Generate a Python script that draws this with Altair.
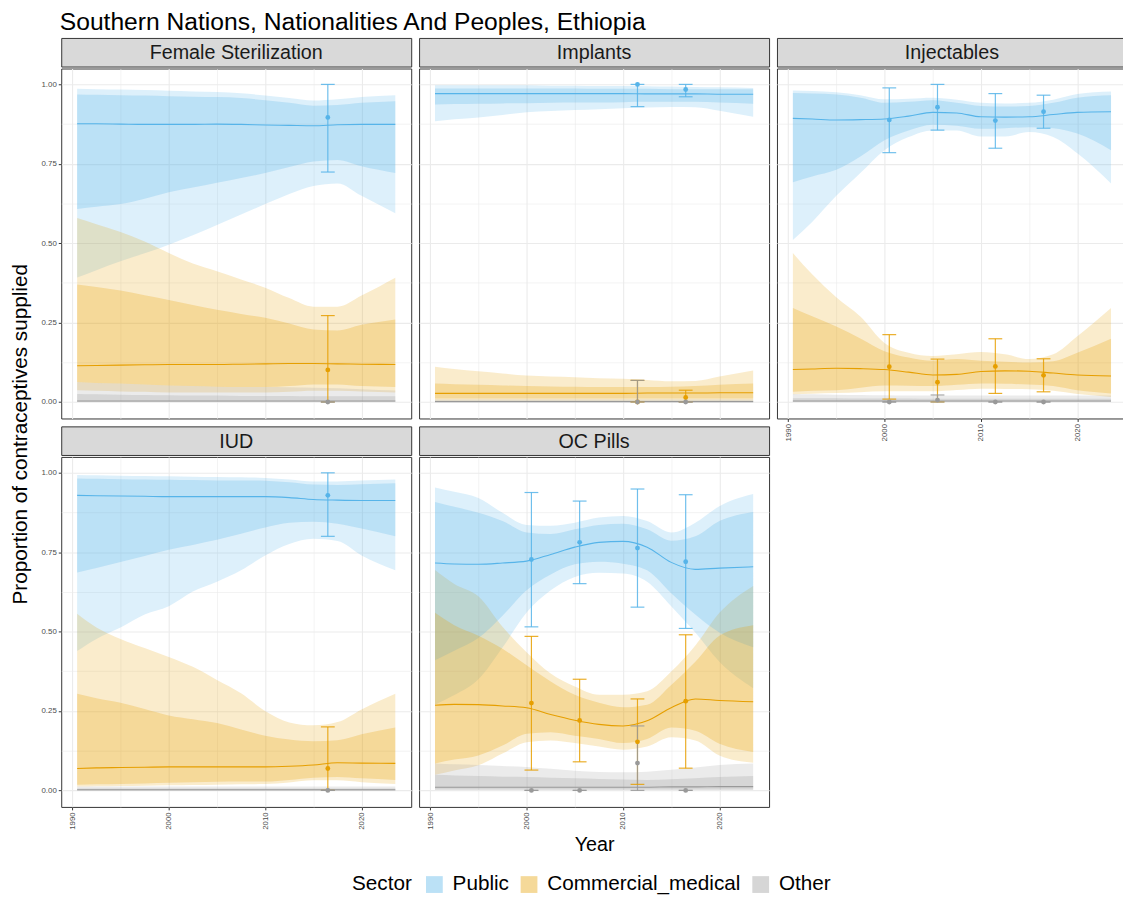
import altair as alt
import pandas as pd

FONT = "Liberation Sans"
TITLE = "Southern Nations, Nationalities And Peoples, Ethiopia"
Y_TITLE = "Proportion of contraceptives supplied"
X_TITLE = "Year"
METHODS = ["Female Sterilization", "Implants", "Injectables", "IUD", "OC Pills"]
SECTORS = ["Public", "Commercial_medical", "Other"]
COLORS = ["#56B4E9", "#E69F00", "#999999"]

YEARS = [1990.5, 1992.5, 1995, 1997.5, 2000, 2002.5, 2005, 2007.5, 2010, 2012.5, 2015, 2017.5, 2020, 2023.5]

# ---------------- Female Sterilization ----------------
FS_PUB_MED  = [0.876, 0.876, 0.875, 0.874, 0.874, 0.874, 0.875, 0.874, 0.872, 0.871, 0.870, 0.873, 0.874, 0.874]
FS_PUB_LO80 = [0.608, 0.615, 0.623, 0.640, 0.660, 0.675, 0.690, 0.705, 0.721, 0.740, 0.757, 0.762, 0.742, 0.721]
FS_PUB_HI80 = [0.968, 0.967, 0.966, 0.965, 0.963, 0.961, 0.960, 0.957, 0.950, 0.942, 0.933, 0.935, 0.942, 0.947]
FS_PUB_LO95 = [0.392, 0.415, 0.443, 0.468, 0.495, 0.525, 0.557, 0.590, 0.623, 0.655, 0.680, 0.688, 0.649, 0.594]
FS_PUB_HI95 = [0.986, 0.985, 0.984, 0.982, 0.980, 0.978, 0.976, 0.972, 0.965, 0.957, 0.949, 0.953, 0.960, 0.966]

FS_COM_MED  = [0.114, 0.115, 0.116, 0.117, 0.118, 0.118, 0.118, 0.119, 0.120, 0.121, 0.121, 0.120, 0.119, 0.118]
FS_COM_LO80 = [0.063, 0.060, 0.058, 0.055, 0.052, 0.050, 0.048, 0.047, 0.047, 0.050, 0.055, 0.055, 0.050, 0.047]
FS_COM_HI80 = [0.370, 0.362, 0.351, 0.336, 0.321, 0.305, 0.290, 0.277, 0.265, 0.247, 0.228, 0.225, 0.243, 0.260]
FS_COM_LO95 = [0.037, 0.035, 0.033, 0.032, 0.030, 0.030, 0.030, 0.030, 0.030, 0.032, 0.035, 0.035, 0.033, 0.030]
FS_COM_HI95 = [0.579, 0.560, 0.535, 0.505, 0.469, 0.436, 0.412, 0.386, 0.360, 0.327, 0.300, 0.300, 0.335, 0.391]

FS_OTH_MED  = [0.003, 0.003, 0.003, 0.003, 0.003, 0.003, 0.003, 0.003, 0.003, 0.003, 0.003, 0.003, 0.003, 0.003]
FS_OTH_LO80 = [0.001, 0.001, 0.001, 0.001, 0.001, 0.001, 0.001, 0.001, 0.001, 0.001, 0.001, 0.001, 0.001, 0.001]
FS_OTH_HI80 = [0.025, 0.024, 0.023, 0.022, 0.021, 0.020, 0.020, 0.019, 0.019, 0.019, 0.018, 0.018, 0.018, 0.018]
FS_OTH_LO95 = [0.000, 0.000, 0.000, 0.000, 0.000, 0.000, 0.000, 0.000, 0.000, 0.000, 0.000, 0.000, 0.000, 0.000]
FS_OTH_HI95 = [0.063, 0.060, 0.058, 0.055, 0.052, 0.050, 0.048, 0.047, 0.047, 0.046, 0.045, 0.043, 0.040, 0.036]

# ---------------- Implants ----------------
IMP_PUB_MED  = [0.971, 0.971, 0.971, 0.971, 0.971, 0.971, 0.971, 0.971, 0.971, 0.970, 0.970, 0.970, 0.969, 0.969]
IMP_PUB_LO80 = [0.937, 0.938, 0.939, 0.940, 0.941, 0.942, 0.943, 0.943, 0.944, 0.945, 0.945, 0.945, 0.943, 0.939]
IMP_PUB_HI80 = [0.987, 0.987, 0.987, 0.987, 0.987, 0.987, 0.987, 0.986, 0.986, 0.986, 0.985, 0.985, 0.985, 0.985]
IMP_PUB_LO95 = [0.884, 0.890, 0.896, 0.904, 0.912, 0.916, 0.919, 0.922, 0.925, 0.927, 0.929, 0.928, 0.917, 0.898]
IMP_PUB_HI95 = [0.997, 0.997, 0.997, 0.997, 0.997, 0.996, 0.996, 0.995, 0.995, 0.994, 0.993, 0.992, 0.991, 0.989]

IMP_COM_MED  = [0.027, 0.027, 0.027, 0.027, 0.027, 0.027, 0.027, 0.027, 0.027, 0.028, 0.028, 0.028, 0.029, 0.029]
IMP_COM_LO80 = [0.011, 0.011, 0.011, 0.011, 0.011, 0.011, 0.011, 0.011, 0.011, 0.011, 0.011, 0.011, 0.011, 0.011]
IMP_COM_HI80 = [0.058, 0.056, 0.054, 0.052, 0.050, 0.049, 0.048, 0.047, 0.047, 0.047, 0.048, 0.050, 0.054, 0.058]
IMP_COM_LO95 = [0.004, 0.004, 0.004, 0.004, 0.004, 0.004, 0.004, 0.004, 0.004, 0.004, 0.004, 0.004, 0.004, 0.004]
IMP_COM_HI95 = [0.111, 0.104, 0.097, 0.090, 0.083, 0.080, 0.078, 0.075, 0.073, 0.069, 0.065, 0.066, 0.080, 0.099]

IMP_OTH_MED  = [0.001, 0.001, 0.001, 0.001, 0.001, 0.001, 0.001, 0.001, 0.001, 0.001, 0.001, 0.001, 0.001, 0.001]
IMP_OTH_LO80 = [0.000, 0.000, 0.000, 0.000, 0.000, 0.000, 0.000, 0.000, 0.000, 0.000, 0.000, 0.000, 0.000, 0.000]
IMP_OTH_HI80 = [0.004, 0.004, 0.004, 0.004, 0.004, 0.004, 0.004, 0.004, 0.004, 0.004, 0.004, 0.004, 0.004, 0.004]
IMP_OTH_LO95 = [0.000, 0.000, 0.000, 0.000, 0.000, 0.000, 0.000, 0.000, 0.000, 0.000, 0.000, 0.000, 0.000, 0.000]
IMP_OTH_HI95 = [0.008, 0.008, 0.008, 0.008, 0.008, 0.008, 0.008, 0.008, 0.008, 0.008, 0.008, 0.008, 0.008, 0.008]

# ---------------- Injectables ----------------
INJ_PUB_MED  = [0.893, 0.891, 0.888, 0.889, 0.891, 0.900, 0.912, 0.910, 0.898, 0.897, 0.898, 0.905, 0.912, 0.914]
INJ_PUB_LO80 = [0.692, 0.710, 0.731, 0.773, 0.824, 0.855, 0.873, 0.870, 0.860, 0.862, 0.865, 0.862, 0.845, 0.793]
INJ_PUB_HI80 = [0.973, 0.971, 0.968, 0.958, 0.942, 0.945, 0.950, 0.942, 0.932, 0.930, 0.932, 0.942, 0.958, 0.966]
INJ_PUB_LO95 = [0.510, 0.567, 0.649, 0.721, 0.793, 0.834, 0.855, 0.855, 0.836, 0.836, 0.850, 0.834, 0.783, 0.688]
INJ_PUB_HI95 = [0.981, 0.979, 0.975, 0.966, 0.953, 0.955, 0.958, 0.952, 0.942, 0.940, 0.942, 0.952, 0.970, 0.978]

INJ_COM_MED  = [0.102, 0.104, 0.106, 0.105, 0.102, 0.094, 0.085, 0.087, 0.096, 0.098, 0.097, 0.091, 0.085, 0.082]
INJ_COM_LO80 = [0.032, 0.035, 0.037, 0.045, 0.052, 0.051, 0.050, 0.054, 0.058, 0.057, 0.055, 0.050, 0.037, 0.027]
INJ_COM_HI80 = [0.296, 0.270, 0.238, 0.200, 0.160, 0.140, 0.130, 0.135, 0.130, 0.127, 0.124, 0.128, 0.155, 0.199]
INJ_COM_LO95 = [0.024, 0.026, 0.028, 0.031, 0.034, 0.034, 0.034, 0.038, 0.042, 0.041, 0.040, 0.035, 0.025, 0.016]
INJ_COM_HI95 = [0.469, 0.402, 0.330, 0.269, 0.186, 0.155, 0.145, 0.150, 0.157, 0.150, 0.135, 0.150, 0.207, 0.296]

INJ_OTH_MED  = [0.003, 0.003, 0.003, 0.003, 0.003, 0.003, 0.003, 0.003, 0.003, 0.003, 0.003, 0.003, 0.003, 0.003]
INJ_OTH_LO80 = [0.001, 0.001, 0.001, 0.001, 0.001, 0.001, 0.001, 0.001, 0.001, 0.001, 0.001, 0.001, 0.001, 0.001]
INJ_OTH_HI80 = [0.012, 0.012, 0.012, 0.011, 0.011, 0.011, 0.010, 0.010, 0.010, 0.010, 0.010, 0.010, 0.010, 0.010]
INJ_OTH_LO95 = [0.000, 0.000, 0.000, 0.000, 0.000, 0.000, 0.000, 0.000, 0.000, 0.000, 0.000, 0.000, 0.000, 0.000]
INJ_OTH_HI95 = [0.025, 0.024, 0.023, 0.022, 0.021, 0.020, 0.020, 0.020, 0.020, 0.020, 0.020, 0.020, 0.020, 0.020]

# ---------------- IUD ----------------
IUD_PUB_MED  = [0.929, 0.928, 0.927, 0.926, 0.925, 0.925, 0.925, 0.925, 0.925, 0.922, 0.916, 0.914, 0.913, 0.913]
IUD_PUB_LO80 = [0.686, 0.700, 0.719, 0.738, 0.758, 0.773, 0.789, 0.808, 0.828, 0.843, 0.846, 0.840, 0.825, 0.800]
IUD_PUB_HI80 = [0.982, 0.981, 0.980, 0.979, 0.978, 0.977, 0.976, 0.976, 0.975, 0.970, 0.963, 0.962, 0.964, 0.967]
IUD_PUB_LO95 = [0.439, 0.477, 0.513, 0.554, 0.580, 0.626, 0.657, 0.693, 0.740, 0.776, 0.792, 0.785, 0.740, 0.693]
IUD_PUB_HI95 = [0.993, 0.992, 0.991, 0.990, 0.989, 0.988, 0.987, 0.986, 0.984, 0.979, 0.973, 0.973, 0.976, 0.979]

IUD_COM_MED  = [0.069, 0.071, 0.072, 0.073, 0.074, 0.074, 0.074, 0.074, 0.074, 0.076, 0.080, 0.087, 0.086, 0.085]
IUD_COM_LO80 = [0.018, 0.019, 0.020, 0.022, 0.024, 0.026, 0.027, 0.028, 0.028, 0.033, 0.040, 0.042, 0.038, 0.033]
IUD_COM_HI80 = [0.304, 0.290, 0.276, 0.256, 0.236, 0.224, 0.212, 0.192, 0.172, 0.160, 0.155, 0.158, 0.177, 0.198]
IUD_COM_LO95 = [0.012, 0.013, 0.014, 0.015, 0.016, 0.017, 0.018, 0.019, 0.020, 0.025, 0.032, 0.032, 0.026, 0.020]
IUD_COM_HI95 = [0.556, 0.513, 0.477, 0.448, 0.420, 0.389, 0.348, 0.306, 0.250, 0.214, 0.205, 0.215, 0.255, 0.304]

IUD_OTH_MED  = [0.002, 0.002, 0.002, 0.002, 0.002, 0.002, 0.002, 0.002, 0.002, 0.002, 0.002, 0.002, 0.002, 0.002]
IUD_OTH_LO80 = [0.000, 0.000, 0.000, 0.000, 0.000, 0.000, 0.000, 0.000, 0.000, 0.000, 0.000, 0.000, 0.000, 0.000]
IUD_OTH_HI80 = [0.006, 0.006, 0.006, 0.006, 0.006, 0.006, 0.006, 0.006, 0.006, 0.006, 0.006, 0.006, 0.006, 0.006]
IUD_OTH_LO95 = [0.000, 0.000, 0.000, 0.000, 0.000, 0.000, 0.000, 0.000, 0.000, 0.000, 0.000, 0.000, 0.000, 0.000]
IUD_OTH_HI95 = [0.012, 0.012, 0.012, 0.012, 0.012, 0.012, 0.012, 0.012, 0.012, 0.012, 0.012, 0.012, 0.012, 0.012]

# ---------------- OC Pills ----------------
OC_PUB_MED  = [0.716, 0.713, 0.712, 0.716, 0.722, 0.743, 0.766, 0.781, 0.784, 0.766, 0.718, 0.696, 0.700, 0.704]
OC_PUB_LO80 = [0.410, 0.440, 0.480, 0.550, 0.630, 0.680, 0.712, 0.720, 0.714, 0.693, 0.621, 0.554, 0.497, 0.451]
OC_PUB_HI80 = [0.908, 0.893, 0.874, 0.848, 0.812, 0.807, 0.822, 0.836, 0.840, 0.822, 0.786, 0.800, 0.848, 0.877]
OC_PUB_LO95 = [0.270, 0.300, 0.350, 0.450, 0.560, 0.630, 0.672, 0.685, 0.683, 0.657, 0.580, 0.497, 0.405, 0.322]
OC_PUB_HI95 = [0.954, 0.940, 0.921, 0.874, 0.836, 0.833, 0.843, 0.859, 0.864, 0.848, 0.812, 0.843, 0.895, 0.933]

OC_COM_MED  = [0.268, 0.271, 0.270, 0.266, 0.260, 0.239, 0.221, 0.208, 0.203, 0.219, 0.260, 0.288, 0.283, 0.279]
OC_COM_LO80 = [0.085, 0.097, 0.110, 0.141, 0.178, 0.183, 0.172, 0.162, 0.149, 0.162, 0.198, 0.188, 0.147, 0.121]
OC_COM_HI80 = [0.559, 0.520, 0.487, 0.446, 0.394, 0.343, 0.301, 0.276, 0.262, 0.270, 0.332, 0.405, 0.487, 0.520]
OC_COM_LO95 = [0.049, 0.063, 0.079, 0.116, 0.152, 0.157, 0.149, 0.138, 0.128, 0.138, 0.167, 0.157, 0.110, 0.087]
OC_COM_HI95 = [0.694, 0.650, 0.611, 0.515, 0.435, 0.368, 0.327, 0.301, 0.301, 0.312, 0.374, 0.456, 0.559, 0.644]

OC_OTH_MED  = [0.010, 0.010, 0.010, 0.010, 0.010, 0.010, 0.010, 0.010, 0.010, 0.010, 0.011, 0.011, 0.012, 0.012]
OC_OTH_LO80 = [0.003, 0.003, 0.003, 0.003, 0.003, 0.003, 0.003, 0.003, 0.003, 0.003, 0.003, 0.003, 0.003, 0.003]
OC_OTH_HI80 = [0.049, 0.047, 0.045, 0.043, 0.042, 0.040, 0.038, 0.036, 0.034, 0.033, 0.035, 0.038, 0.042, 0.045]
OC_OTH_LO95 = [0.001, 0.001, 0.001, 0.001, 0.001, 0.001, 0.001, 0.001, 0.001, 0.001, 0.001, 0.001, 0.001, 0.001]
OC_OTH_HI95 = [0.085, 0.082, 0.080, 0.077, 0.074, 0.068, 0.062, 0.058, 0.057, 0.059, 0.065, 0.072, 0.080, 0.085]

# ---------------- Survey observations ----------------
OBS_METHOD = (["Female Sterilization"] * 3 + ["Implants"] * 6 + ["Injectables"] * 12
              + ["IUD"] * 3 + ["OC Pills"] * 12)
OBS_YEAR = ([2016.5] * 3 + [2011.5] * 3 + [2016.5] * 3
            + [2000.5] * 3 + [2005.5] * 3 + [2011.5] * 3 + [2016.5] * 3
            + [2016.5] * 3
            + [2000.5] * 3 + [2005.5] * 3 + [2011.5] * 3 + [2016.5] * 3)
OBS_SECTOR = SECTORS * 12
OBS_VALUE = [0.896, 0.101, 0.000,
             1.000, 0.000, 0.000, 0.984, 0.014, 0.000,
             0.888, 0.111, 0.000, 0.928, 0.062, 0.006, 0.886, 0.112, 0.000, 0.914, 0.084, 0.000,
             0.929, 0.069, 0.000,
             0.727, 0.275, 0.000, 0.781, 0.220, 0.000, 0.763, 0.153, 0.086, 0.720, 0.281, 0.000]
OBS_LO = [0.724, 0.000, 0.000,
          0.930, 0.000, 0.000, 0.961, 0.000, 0.000,
          0.785, 0.009, 0.000, 0.856, 0.000, 0.000, 0.799, 0.027, 0.000, 0.862, 0.032, 0.000,
          0.800, 0.000, 0.000,
          0.515, 0.064, 0.000, 0.651, 0.090, 0.000, 0.577, 0.019, 0.000, 0.510, 0.070, 0.000]
OBS_HI = [1.000, 0.272, 0.000,
          1.000, 0.068, 0.068, 1.000, 0.037, 0.000,
          0.989, 0.212, 0.000, 1.000, 0.135, 0.022, 0.971, 0.199, 0.000, 0.966, 0.136, 0.000,
          1.000, 0.200, 0.000,
          0.938, 0.485, 0.000, 0.911, 0.350, 0.000, 0.949, 0.288, 0.203, 0.931, 0.490, 0.000]

BANDS = {
    ("Female Sterilization", "Public"): (FS_PUB_MED, FS_PUB_LO80, FS_PUB_HI80, FS_PUB_LO95, FS_PUB_HI95),
    ("Female Sterilization", "Commercial_medical"): (FS_COM_MED, FS_COM_LO80, FS_COM_HI80, FS_COM_LO95, FS_COM_HI95),
    ("Female Sterilization", "Other"): (FS_OTH_MED, FS_OTH_LO80, FS_OTH_HI80, FS_OTH_LO95, FS_OTH_HI95),
    ("Implants", "Public"): (IMP_PUB_MED, IMP_PUB_LO80, IMP_PUB_HI80, IMP_PUB_LO95, IMP_PUB_HI95),
    ("Implants", "Commercial_medical"): (IMP_COM_MED, IMP_COM_LO80, IMP_COM_HI80, IMP_COM_LO95, IMP_COM_HI95),
    ("Implants", "Other"): (IMP_OTH_MED, IMP_OTH_LO80, IMP_OTH_HI80, IMP_OTH_LO95, IMP_OTH_HI95),
    ("Injectables", "Public"): (INJ_PUB_MED, INJ_PUB_LO80, INJ_PUB_HI80, INJ_PUB_LO95, INJ_PUB_HI95),
    ("Injectables", "Commercial_medical"): (INJ_COM_MED, INJ_COM_LO80, INJ_COM_HI80, INJ_COM_LO95, INJ_COM_HI95),
    ("Injectables", "Other"): (INJ_OTH_MED, INJ_OTH_LO80, INJ_OTH_HI80, INJ_OTH_LO95, INJ_OTH_HI95),
    ("IUD", "Public"): (IUD_PUB_MED, IUD_PUB_LO80, IUD_PUB_HI80, IUD_PUB_LO95, IUD_PUB_HI95),
    ("IUD", "Commercial_medical"): (IUD_COM_MED, IUD_COM_LO80, IUD_COM_HI80, IUD_COM_LO95, IUD_COM_HI95),
    ("IUD", "Other"): (IUD_OTH_MED, IUD_OTH_LO80, IUD_OTH_HI80, IUD_OTH_LO95, IUD_OTH_HI95),
    ("OC Pills", "Public"): (OC_PUB_MED, OC_PUB_LO80, OC_PUB_HI80, OC_PUB_LO95, OC_PUB_HI95),
    ("OC Pills", "Commercial_medical"): (OC_COM_MED, OC_COM_LO80, OC_COM_HI80, OC_COM_LO95, OC_COM_HI95),
    ("OC Pills", "Other"): (OC_OTH_MED, OC_OTH_LO80, OC_OTH_HI80, OC_OTH_LO95, OC_OTH_HI95),
}

rows = []
for (m, s), (med, lo80, hi80, lo95, hi95) in BANDS.items():
    for i, yr in enumerate(YEARS):
        rows.append({"Method": m, "Sector": s, "Year": yr, "med": med[i],
                     "lo80": lo80[i], "hi80": hi80[i], "lo95": lo95[i], "hi95": hi95[i]})
bands = pd.DataFrame(rows)
obs = pd.DataFrame({"Method": OBS_METHOD, "Year": OBS_YEAR, "Sector": OBS_SECTOR,
                    "value": OBS_VALUE, "lo": OBS_LO, "hi": OBS_HI})

# ---------------- layout constants ----------------
W = 355
H = 355
SH = 29
GRID_X = [1990, 1995, 2000, 2005, 2010, 2015, 2020]
GRID_Y = [0, 0.125, 0.25, 0.375, 0.5, 0.625, 0.75, 0.875, 1.0]

cs = alt.Scale(domain=SECTORS, range=COLORS)
xs = alt.Scale(domain=[1988.85, 2025.15], nice=False, zero=False)
ys = alt.Scale(domain=[-0.052, 1.05], nice=False, zero=False)

LEGEND = alt.Legend(
    orient="none", legendX=348, legendY=848, direction="horizontal",
    title="Sector", titleOrient="left", titleFont=FONT, titleFontSize=21,
    titleFontWeight="normal", titleColor="black", titlePadding=12,
    labelFont=FONT, labelFontSize=21, labelColor="black", labelOffset=8,
    labelLimit=400, columnPadding=9, symbolType="square", symbolSize=290,
    symbolOpacity=0.4, symbolStrokeWidth=0,
)


def strip(name):
    return alt.Chart(pd.DataFrame({"label": [name]})).mark_text(
        font=FONT, fontSize=20, color="#1A1A1A"
    ).encode(
        text="label:N", x=alt.value(W / 2), y=alt.value(SH / 2 + 1)
    ).properties(width=W, height=SH,
                 view=alt.ViewBackground(fill="#D9D9D9", stroke="#333333", strokeWidth=1))


def panel(method, show_y, show_x, x_title=False, legend=None):
    d = bands[bands.Method == method]
    o = obs[obs.Method == method]
    xaxis_kw = dict(
        values=GRID_X, labels=show_x, ticks=show_x, domain=False, grid=True,
        format="d", labelExpr="datum.value % 10 == 0 ? datum.label : ''",
        labelAngle=-90, labelFont=FONT, labelFontSize=8, labelColor="#4D4D4D",
        labelPadding=2, tickColor="#333333", tickSize=3,
        tickOpacity={"condition": {"test": "datum.value % 10 != 0", "value": 0}, "value": 1},
        gridColor="#EBEBEB",
        gridWidth={"condition": {"test": "datum.value % 10 != 0", "value": 0.6}, "value": 1.1},
        titleFont=FONT, titleFontSize=20, titleFontWeight="normal", titleColor="black",
        titlePadding=5,
    )
    xaxis = alt.Axis(title=X_TITLE, **xaxis_kw) if x_title else alt.Axis(title=None, **xaxis_kw)
    yaxis = alt.Axis(
        values=GRID_Y, labels=show_y, ticks=show_y, domain=False, grid=True,
        format=".2f", labelExpr="round(datum.value * 8) % 2 == 0 ? datum.label : ''",
        labelFont=FONT, labelFontSize=8, labelColor="#4D4D4D", labelPadding=2,
        tickColor="#333333", tickSize=3,
        tickOpacity={"condition": {"test": "round(datum.value * 8) % 2 == 1", "value": 0}, "value": 1},
        gridColor="#EBEBEB",
        gridWidth={"condition": {"test": "round(datum.value * 8) % 2 == 1", "value": 0.6}, "value": 1.1},
        title=None,
    )
    X = alt.X("Year:Q", scale=xs, axis=xaxis)

    def Y(f):
        return alt.Y(f, type="quantitative", scale=ys, axis=yaxis)

    C0 = alt.Color("Sector:N", scale=cs, legend=None)
    C1 = alt.Color("Sector:N", scale=cs, legend=legend) if legend is not None else C0

    base = alt.Chart(d)
    a95 = base.mark_area(fillOpacity=0.2, interpolate="monotone").encode(
        x=X, y=Y("lo95"), y2="hi95:Q", color=C1)
    a80 = base.mark_area(fillOpacity=0.25, interpolate="monotone").encode(
        x=X, y=Y("lo80"), y2="hi80:Q", color=C0)
    line = base.mark_line(strokeWidth=1.1, interpolate="monotone").encode(
        x=X, y=Y("med"), color=C0)
    ob = alt.Chart(o)
    rule = ob.mark_rule(strokeWidth=1.2, opacity=0.85).encode(
        x=X, y=Y("lo"), y2="hi:Q", color=C0)
    cap_lo = ob.mark_tick(orient="horizontal", size=14, thickness=1.2, opacity=0.85).encode(
        x=X, y=Y("lo"), color=C0)
    cap_hi = ob.mark_tick(orient="horizontal", size=14, thickness=1.2, opacity=0.85).encode(
        x=X, y=Y("hi"), color=C0)
    pts = ob.mark_circle(size=24, opacity=1).encode(x=X, y=Y("value"), color=C0)
    return alt.layer(a95, a80, line, rule, cap_lo, cap_hi, pts).properties(
        width=W, height=H,
        view=alt.ViewBackground(fill="white", stroke="#333333", strokeWidth=1))


ytitle = alt.Chart(pd.DataFrame({"t": [Y_TITLE]})).mark_text(
    angle=270, font=FONT, fontSize=21, color="black"
).encode(text="t:N", x=alt.value(12.5), y=alt.value(402)).properties(
    width=24, height=2 * SH + 2 * H + 6,
    view=alt.ViewBackground(stroke="transparent", fill="transparent"))

col1 = alt.vconcat(
    alt.vconcat(strip("Female Sterilization"),
                panel("Female Sterilization", True, False, legend=LEGEND), spacing=0),
    alt.vconcat(strip("IUD"), panel("IUD", True, True), spacing=0),
    spacing=6)
col2 = alt.vconcat(
    alt.vconcat(strip("Implants"), panel("Implants", False, False), spacing=0),
    alt.vconcat(strip("OC Pills"), panel("OC Pills", False, True, x_title=True), spacing=0),
    spacing=6)
col3 = alt.vconcat(strip("Injectables"), panel("Injectables", False, True), spacing=0)

chart = alt.hconcat(ytitle, col1, col2, col3, spacing=6).resolve_scale(
    color="shared").resolve_legend(color="shared").properties(
    title=alt.TitleParams(TITLE, anchor="start", font=FONT, fontSize=25,
                          fontWeight="normal", color="black", offset=3, dx=52),
    padding={"left": 0, "top": -5, "right": -5, "bottom": -4},
    background="white",
)

chart.save("out.html", embed_options={"renderer": "svg", "actions": False})
